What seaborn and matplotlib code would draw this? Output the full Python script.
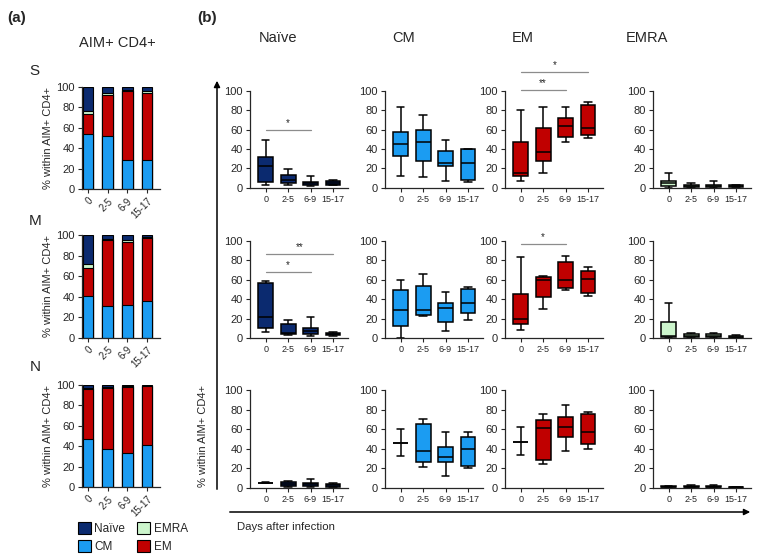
import seaborn as sns
import matplotlib.pyplot as plt
import pandas as pd
from matplotlib.patches import Patch

days = ['0', '2-5', '6-9', '15-17']
subsets = ['Naïve', 'CM', 'EM', 'EMRA']
cohorts = ['S', 'M', 'N']

# (a) mean composition, % within AIM+ CD4+
s_cm = [54, 52, 28, 28]
s_em = [19, 40, 68, 66]
s_emra = [3, 2, 1, 2]
s_naive = [24, 6, 3, 4]

m_cm = [41, 31, 32, 36]
m_em = [27, 64, 61, 61.5]
m_emra = [4, 1, 2, 1]
m_naive = [28, 4, 5, 1.5]

n_cm = [47, 37, 33, 41]
n_em = [49, 60, 65.5, 58]
n_emra = [1, 1, 0.5, 0.5]
n_naive = [3, 2, 1, 0.5]

# (b) box summaries per day: [min, q1, median, q3, max]
s_naive_box = [[3, 6, 22, 32, 49], [2.4, 4.5, 8, 13.4, 19], [1.4, 2.5, 4.5, 6, 12], [2.4, 3, 5, 6.5, 8]]
s_cm_box = [[12.4, 33, 45, 58, 83], [11, 27.6, 47.6, 60, 75], [6.5, 22.4, 26, 38, 49], [5.5, 8, 26, 39.6, 40.5]]
s_em_box = [[7, 12, 15, 47, 80], [15.5, 28, 37, 62, 83], [47, 52, 63.4, 72, 83], [51, 55, 62, 86, 89]]
s_emra_box = [[0, 2, 4.5, 7, 15], [0, 0.7, 1.5, 3, 5], [0, 0.7, 1.7, 3, 7], [0.3, 0.7, 1.7, 2.5, 3]]

m_naive_box = [[6.5, 10, 22, 57, 59], [3, 4, 5.5, 14, 19], [2, 4, 7.5, 10, 21.6], [2.4, 3, 4, 5, 6]]
m_cm_box = [[0, 12.7, 29, 50, 60], [23, 24, 29, 54, 66], [7.5, 16.4, 30.5, 36, 47.6], [19, 26, 35.6, 51, 53]]
m_em_box = [[8, 14, 20, 45.5, 83], [30, 41.8, 59.6, 62.7, 64], [49, 52, 60, 78, 84.6], [43, 46, 61, 69.5, 73.6]]
m_emra_box = [[0, 0.7, 2, 17, 35.6], [0, 0.7, 2, 4, 5], [0.3, 1.4, 2.4, 4, 5.5], [0, 0.3, 1, 1.7, 2.7]]

n_naive_box = [[4.5, 5, 5, 5, 5.5], [1, 2, 4, 6, 7], [1, 2, 3.4, 4.4, 9], [0.3, 1, 2.4, 3.4, 5]]
n_cm_box = [[32, 46, 46, 46, 60], [21.5, 26, 38, 65, 70], [12, 26, 31, 42, 56.7], [20, 22, 39.6, 52, 57]]
n_em_box = [[33, 47, 47, 47, 62], [24, 28.7, 60.6, 69, 75], [38, 51.5, 62.5, 72.7, 84.6], [40, 44.4, 57.3, 75, 77]]
n_emra_box = [[0, 0.3, 0.7, 1.5, 2], [0, 0.5, 1, 1.8, 2.5], [0, 0.3, 0.7, 1.3, 2.5], [0, 0.2, 0.5, 0.8, 1.2]]

# significance: (row, col, from day, to day, height, label)
sig_marks = [(0, 0, 0, 2, 60, '*'), (0, 2, 0, 2, 101, '**'), (0, 2, 0, 3, 120, '*'),
             (1, 0, 0, 2, 68, '*'), (1, 0, 0, 3, 87, '**'), (1, 2, 0, 2, 97, '*')]

colors = {'Naïve': '#0b2a6f', 'CM': '#1b9cf2', 'EM': '#c00000', 'EMRA': '#ccf5cc'}

comp = {'S': (s_cm, s_em, s_emra, s_naive),
        'M': (m_cm, m_em, m_emra, m_naive),
        'N': (n_cm, n_em, n_emra, n_naive)}
boxes = [[s_naive_box, s_cm_box, s_em_box, s_emra_box],
         [m_naive_box, m_cm_box, m_em_box, m_emra_box],
         [n_naive_box, n_cm_box, n_em_box, n_emra_box]]

sns.set_style('ticks')
plt.rcParams['font.family'] = ['Liberation Sans', 'DejaVu Sans']
plt.rcParams['axes.linewidth'] = 0.9

W, H = 761, 558
fig = plt.figure(figsize=(W / 100, H / 100), dpi=100)

bg = fig.add_axes([0, 0, 1, 1], zorder=-1)
bg.set_xlim(0, W)
bg.set_ylim(H, 0)
bg.axis('off')


def add_ax(left, top, bottom, width):
    return fig.add_axes([left / W, 1 - bottom / H, width / W, (bottom - top) / H])


def style(ax, xsize, ysize):
    sns.despine(ax=ax)
    ax.tick_params(axis='both', length=3, width=0.8, pad=2)
    ax.tick_params(axis='x', labelsize=xsize)
    ax.tick_params(axis='y', labelsize=ysize)
    ax.set_xlabel('')
    ax.set_ylabel('')
    ax.set_ylim(0, 100)
    ax.set_yticks([0, 20, 40, 60, 80, 100])


# ---- panel (a): stacked bars
a_rows = [(86.7, 189), (235, 337.7), (385, 487)]
for cohort, (top, bottom) in zip(cohorts, a_rows):
    cm, em, emra, naive = comp[cohort]
    df = pd.DataFrame({'day': days, 'CM': cm, 'EM': em, 'EMRA': emra, 'Naïve': naive})
    layers = [('Naïve', df[['CM', 'EM', 'EMRA', 'Naïve']].sum(axis=1)),
              ('EMRA', df[['CM', 'EM', 'EMRA']].sum(axis=1)),
              ('EM', df[['CM', 'EM']].sum(axis=1)),
              ('CM', df['CM'])]
    ax = add_ax(82, top, bottom, 78)
    for name, vals in layers:
        sns.barplot(x=df['day'], y=vals, color=colors[name], saturation=1,
                    edgecolor='black', linewidth=0.8, width=0.54, ax=ax)
    style(ax, 7, 8)
    ax.set_xlim(-0.3, 3.65)
    for lab in ax.get_xticklabels():
        lab.set_rotation(45)
        lab.set_ha('right')
        lab.set_rotation_mode('anchor')
    bg.text(48, (top + bottom) / 2, '% within AIM+ CD4+', rotation=90,
            ha='center', va='center', fontsize=8)

bg.text(34, 71, 'S', fontsize=11, ha='center', va='center')
bg.text(35, 221, 'M', fontsize=11, ha='center', va='center')
bg.text(35, 367, 'N', fontsize=11, ha='center', va='center')
bg.text(17, 18, '(a)', fontsize=11, fontweight='bold', ha='center', va='center')
bg.text(117, 43, 'AIM+ CD4+', fontsize=10.5, ha='center', va='center')

handles = [Patch(facecolor=colors[s], edgecolor='black', linewidth=0.8, label=s)
           for s in ['Naïve', 'CM', 'EMRA', 'EM']]
fig.legend(handles=handles, ncol=2, loc='upper left', bbox_to_anchor=(72 / W, 1 - 516 / H),
           frameon=False, fontsize=8.5, handlelength=1.1, handleheight=1.2,
           handletextpad=0.3, columnspacing=1.0, labelspacing=0.45, borderpad=0)

# ---- panel (b): box plots
b_cols = [250, 385, 505, 653]
b_rows = [(91, 187.7), (241, 338), (390, 487.7)]
axes = {}
for r, (top, bottom) in enumerate(b_rows):
    for c, (subset, left) in enumerate(zip(subsets, b_cols)):
        recs = []
        for day, stats in zip(days, boxes[r][c]):
            for v in stats:
                recs.append({'day': day, 'pct': v})
        cell = pd.DataFrame(recs)
        ax = add_ax(left, top, bottom, 98)
        sns.boxplot(data=cell, x='day', y='pct', order=days, color=colors[subset],
                    saturation=1, whis=(0, 100), width=0.66, linecolor='black',
                    linewidth=1.1, fliersize=0, ax=ax)
        style(ax, 6.5, 8)
        ax.set_xlim(-0.7, 3.67)
        for art in ax.patches + ax.lines:
            art.set_clip_on(False)
        axes[(r, c)] = ax

for r, c, i, j, y, label in sig_marks:
    ax = axes[(r, c)]
    ax.plot([i, j], [y, y], color='#8c8c8c', lw=0.9, clip_on=False)
    ax.text((i + j) / 2, y + 2, label, ha='center', va='bottom', fontsize=7)

for title, x in zip(subsets, [278.5, 404, 523, 647]):
    bg.text(x, 38, title, fontsize=10.5, ha='center', va='center')
bg.text(207, 18, '(b)', fontsize=11, fontweight='bold', ha='center', va='center')

bg.annotate('', xy=(217, 78), xytext=(217, 492),
            arrowprops=dict(arrowstyle='-|>', color='black', lw=1.1, mutation_scale=9))
bg.annotate('', xy=(753, 512), xytext=(227, 512),
            arrowprops=dict(arrowstyle='-|>', color='black', lw=1.1, mutation_scale=9))
bg.text(203, 436, '% within AIM+ CD4+', rotation=90, ha='center', va='center', fontsize=8)
bg.text(237, 527, 'Days after infection', ha='left', va='center', fontsize=8.2)

fig.savefig('out.png', dpi=100)
